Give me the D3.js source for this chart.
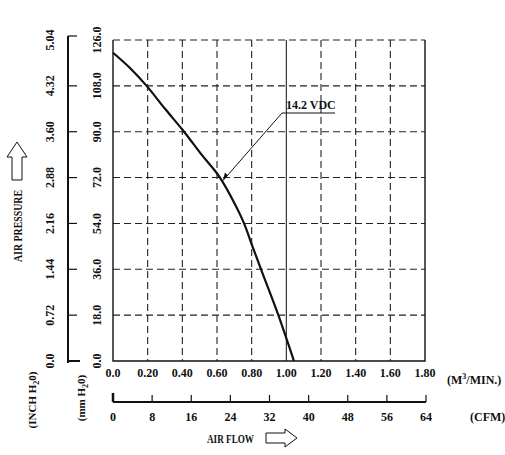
<!DOCTYPE html>
<html>
<head>
<meta charset="utf-8">
<script src="https://cdn.jsdelivr.net/npm/d3@7"></script>
<style>
  body { margin: 0; background: #fff; }
  text { font-family: "Liberation Serif", "DejaVu Serif", serif; font-weight: bold; fill: #111; }
</style>
</head>
<body>
<svg id="chart" width="505" height="455"></svg>
<script>
// air flow in M3/MIN, pressure in mm H2O
const flow = [0, 0.098, 0.194, 0.3, 0.41, 0.511, 0.617, 0.7, 0.756, 0.81, 0.854, 0.954, 1.044];
const pressure = [121, 115, 108, 99, 90, 81, 72, 62, 54, 44, 36, 18, 0];

const flowTicks = [0, 0.2, 0.4, 0.6, 0.8, 1.0, 1.2, 1.4, 1.6, 1.8];
const cfmTicks = [0, 8, 16, 24, 32, 40, 48, 56, 64];
const mmTicks = [0, 18, 36, 54, 72, 90, 108, 126];
const inchLabels = ['0.0', '0.72', '1.44', '2.16', '2.88', '3.60', '4.32', '5.04'];
const curveLabel = '14.2 VDC';

const svg = d3.select('#chart');
const margin = { top: 40, left: 113, right: 425, bottom: 361 };

const x = d3.scaleLinear().domain([0, 1.8]).range([margin.left, margin.right]);
const y = d3.scaleLinear().domain([0, 126]).range([margin.bottom, margin.top]);
const xCfm = d3.scaleLinear().domain([0, 64]).range([113, 426]);

// grid
const grid = svg.append('g');
grid.selectAll('.vg')
  .data(flowTicks.filter((d) => d > 0 && d < 1.8))
  .enter()
  .append('line')
  .attr('x1', (d) => x(d)).attr('x2', (d) => x(d))
  .attr('y1', margin.top).attr('y2', margin.bottom)
  .attr('stroke', '#222').attr('stroke-width', 1.1)
  .attr('stroke-dasharray', (d) => (Math.abs(d - 1) < 1e-6 ? null : '7,4'));
grid.selectAll('.hg')
  .data(mmTicks.filter((d) => d > 0))
  .enter()
  .append('line')
  .attr('x1', margin.left).attr('x2', margin.right)
  .attr('y1', (d) => y(d)).attr('y2', (d) => y(d))
  .attr('stroke', '#222').attr('stroke-width', 1.1)
  .attr('stroke-dasharray', '7,4');

// frame: left, bottom, right solid
svg.append('path')
  .attr('d', `M${margin.left},${margin.top}V${margin.bottom}H${margin.right}V${margin.top}`)
  .attr('fill', 'none').attr('stroke', '#111').attr('stroke-width', 1.4);

// curve
const line = d3.line()
  .x((d, i) => x(flow[i]))
  .y((d) => y(d))
  .curve(d3.curveMonotoneX);
svg.append('path')
  .attr('d', line(pressure))
  .attr('fill', 'none').attr('stroke', '#111').attr('stroke-width', 2.2);

// annotation
const tip = [x(0.617) + 3, y(72) + 3];
svg.append('path')
  .attr('d', `M${tip[0]},${tip[1]}L282,113H335`)
  .attr('fill', 'none').attr('stroke', '#111').attr('stroke-width', 1);
svg.append('path')
  .attr('d', `M${tip[0]},${tip[1]}l2,-8l3,3z`)
  .attr('fill', '#111');
svg.append('text')
  .attr('x', 286).attr('y', 109)
  .attr('font-size', 12)
  .text(curveLabel);

// bottom flow labels
svg.selectAll('.fl')
  .data(flowTicks)
  .enter()
  .append('text')
  .attr('x', (d) => x(d))
  .attr('y', 377)
  .attr('text-anchor', 'middle')
  .attr('font-size', 12)
  .text((d) => (d === 0 ? '0.0' : d.toFixed(2)));
const m3 = svg.append('text').attr('x', 447).attr('y', 384).attr('font-size', 12);
m3.append('tspan').text('(M');
m3.append('tspan').attr('font-size', 8).attr('dy', -5).text('3');
m3.append('tspan').attr('dy', 5).text('/MIN.)');

// CFM axis
svg.append('line')
  .attr('x1', xCfm(0)).attr('x2', xCfm(64))
  .attr('y1', 402).attr('y2', 402)
  .attr('stroke', '#111').attr('stroke-width', 2);
svg.selectAll('.ct')
  .data(cfmTicks)
  .enter()
  .append('line')
  .attr('x1', (d) => xCfm(d)).attr('x2', (d) => xCfm(d))
  .attr('y1', 402).attr('y2', (d) => (d === 0 ? 393 : 395))
  .attr('stroke', '#111').attr('stroke-width', (d) => (d === 0 ? 2.5 : 1.2));
svg.selectAll('.cl')
  .data(cfmTicks)
  .enter()
  .append('text')
  .attr('x', (d) => xCfm(d))
  .attr('y', 421)
  .attr('text-anchor', 'middle')
  .attr('font-size', 12)
  .text((d) => d);
svg.append('text').attr('x', 470).attr('y', 421).attr('font-size', 12).text('(CFM)');

// air flow title + arrow
svg.append('text').attr('x', 207).attr('y', 443).attr('font-size', 12)
  .attr('textLength', 47).attr('lengthAdjust', 'spacingAndGlyphs')
  .text('AIR  FLOW');
svg.append('path')
  .attr('d', 'M266,433H285V429L297,438L285,447V443H266Z')
  .attr('fill', '#fff').attr('stroke', '#111').attr('stroke-width', 1);

// left inch axis
svg.append('line')
  .attr('x1', 68).attr('x2', 68)
  .attr('y1', margin.top - 4).attr('y2', margin.bottom + 2)
  .attr('stroke', '#111').attr('stroke-width', 2);
svg.selectAll('.it')
  .data(mmTicks)
  .enter()
  .append('line')
  .attr('x1', 68).attr('x2', (d) => (d === 0 ? 80 : 77))
  .attr('y1', (d) => (d === 126 ? margin.top - 4 : y(d)))
  .attr('y2', (d) => (d === 126 ? margin.top - 4 : y(d)))
  .attr('stroke', '#111').attr('stroke-width', (d) => (d === 0 ? 2 : 1.2));

// rotated y labels
svg.selectAll('.il')
  .data(mmTicks)
  .enter()
  .append('text')
  .attr('transform', (d) => `translate(54,${y(d)}) rotate(-90)`)
  .attr('text-anchor', 'middle')
  .attr('font-size', 12)
  .text((d, i) => inchLabels[i]);
svg.selectAll('.ml')
  .data(mmTicks)
  .enter()
  .append('text')
  .attr('transform', (d) => `translate(101,${y(d)}) rotate(-90)`)
  .attr('text-anchor', 'middle')
  .attr('font-size', 12)
  .text((d) => d.toFixed(1));

// unit labels
const inch = svg.append('text')
  .attr('transform', 'translate(36,400) rotate(-90)')
  .attr('text-anchor', 'middle')
  .attr('font-size', 11);
inch.append('tspan').text('(INCH  H');
inch.append('tspan').attr('font-size', 8).attr('dy', 3).text('2');
inch.append('tspan').attr('dy', -3).text('0)');
const mm = svg.append('text')
  .attr('transform', 'translate(85,398) rotate(-90)')
  .attr('text-anchor', 'middle')
  .attr('font-size', 11);
mm.append('tspan').text('(mm  H');
mm.append('tspan').attr('font-size', 8).attr('dy', 3).text('2');
mm.append('tspan').attr('dy', -3).text('0)');

// air pressure title + arrow
svg.append('text')
  .attr('transform', 'translate(22,262) rotate(-90)')
  .attr('font-size', 12)
  .attr('textLength', 72).attr('lengthAdjust', 'spacingAndGlyphs')
  .text('AIR  PRESSURE');
svg.append('path')
  .attr('d', 'M12,180V157H7L17,142L27,157H22V180Z')
  .attr('fill', '#fff').attr('stroke', '#111').attr('stroke-width', 1);
</script>
</body>
</html>
